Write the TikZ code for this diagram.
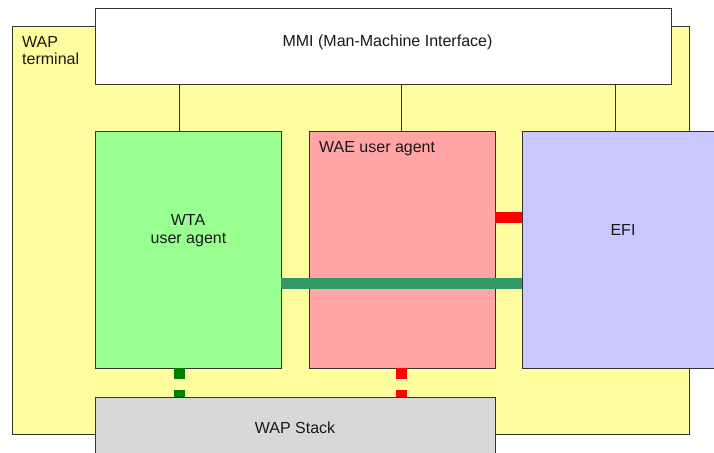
\documentclass[tikz,border=0pt]{standalone}
\usepackage{fontspec}
\setmainfont{Liberation Sans}
\begin{document}
\begin{tikzpicture}[x=1pt,y=-1pt,
  box/.style={draw=black!80, line width=1pt, anchor=north west, inner sep=0pt, outer sep=0pt},
  txt/.style={font=\fontsize{16}{18}\selectfont, text=black!90, inner sep=0pt},
  link/.style={draw=black!80, line width=0.8pt},
  bar/.style={line width=11pt},
  dbar/.style={line width=11pt, dash pattern=on 11pt off 11pt}]
\definecolor{termY}{HTML}{FFFE9E}
\definecolor{wtaG}{HTML}{98FF90}
\definecolor{waeR}{HTML}{FFA5A5}
\definecolor{efiB}{HTML}{C8C8FF}
\definecolor{stackG}{HTML}{D8D8D8}
\definecolor{seaG}{HTML}{339966}
\definecolor{darkG}{HTML}{008000}
\useasboundingbox (0,0) rectangle (714,452);
\clip (0,0) rectangle (714,452);
% terminal
\node[box, fill=termY, minimum width=677, minimum height=407] (term) at (12,27) {};
\node[txt, anchor=base west, align=left] (termtxt) at (22,48) {WAP};
\node[txt, anchor=base west] (termtxt2) at (22,64.5) {terminal};
% MMI
\node[box, fill=white, minimum width=576, minimum height=75] (mmi) at (95,9) {};
\node[txt] (mmitxt) at (387.5,42) {MMI (Man-Machine Interface)};
% boxes
\node[box, fill=wtaG, minimum width=186, minimum height=237] (wta) at (95,131) {};
\node[box, fill=waeR, minimum width=186, minimum height=237] (wae) at (309,131) {};
\node[box, fill=efiB, minimum width=210, minimum height=237] (efi) at (522,131) {};
\node[txt, anchor=base] (wtatxt) at (188,225) {WTA};
\node[txt, anchor=base] (wtatxt2) at (188.5,243) {user agent};
\node[txt, anchor=base west] (waetxt) at (319,152) {WAE user agent};
\node[txt, anchor=base] (efitxt) at (623,235) {EFI};
% links from MMI
\draw[link] ([xshift=84pt]wta.north west) -- ([xshift=84pt]wta.north west |- mmi.south);
\draw[link] ([xshift=92pt]wae.north west) -- ([xshift=92pt]wae.north west |- mmi.south);
\draw[link] ([xshift=93pt]efi.north west) -- ([xshift=93pt]efi.north west |- mmi.south);
% stack
\node[box, fill=stackG, minimum width=400, minimum height=80] (stack) at (95,397) {};
\node[txt, anchor=base] (stacktxt) at (295,433) {WAP Stack};
% bars
\draw[bar, red] (wae.east |- 0,217.5) -- (efi.west |- 0,217.5);
\draw[bar, seaG] (wta.east |- 0,283.5) -- (efi.west |- 0,283.5);
\draw[dbar, darkG] ([xshift=84.5pt]wta.south west) -- ([xshift=84.5pt]wta.south west |- stack.north);
\draw[dbar, red] ([xshift=92.5pt]wae.south west) -- ([xshift=92.5pt]wae.south west |- stack.north);
% redraw stack border on top
\draw[draw=black!80, line width=1pt] (stack.north west) rectangle (stack.south east);
\end{tikzpicture}
\end{document}
